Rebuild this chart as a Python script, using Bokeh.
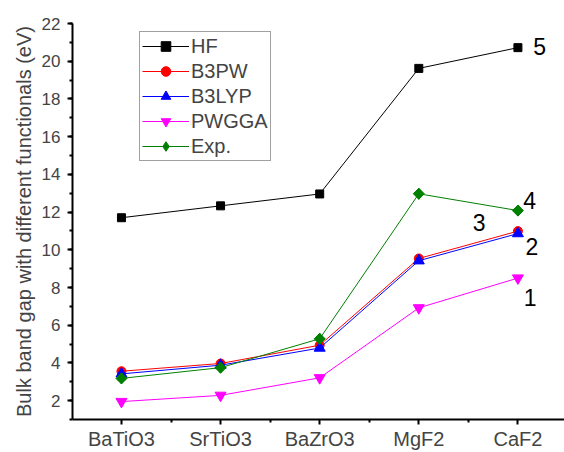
from bokeh.plotting import figure
from bokeh.models import Range1d, FixedTicker, Label, Legend, LegendItem, ColumnDataSource
from bokeh.embed import file_html
from bokeh.resources import INLINE
import numpy as np

# ---- data ----
categories = ["BaTiO3", "SrTiO3", "BaZrO3", "MgF2", "CaF2"]
hf = [11.70, 12.33, 12.96, 19.62, 20.72]
b3pw = [3.56, 3.97, 4.94, 9.54, 10.99]
b3lyp = [3.42, 3.88, 4.79, 9.42, 10.86]
pwgga = [1.95, 2.28, 3.21, 6.92, 8.50]
exp_vals = [3.18, 3.75, 5.28, 12.97, 12.08]

series_names = ["HF", "B3PW", "B3LYP", "PWGGA", "Exp."]
y_ticks = list(range(2, 23, 2))

note_texts = ["1", "2", "3", "4", "5"]

FONT = "Liberation Sans"

x = list(range(len(categories)))

p = figure(width=564, height=452, output_backend="svg", toolbar_location=None,
           x_range=Range1d(-0.494, 4.47), y_range=Range1d(1, 22),
           min_border_left=72, min_border_right=0, min_border_top=23,
           min_border_bottom=30)
p.outline_line_color = None
p.xgrid.visible = False
p.ygrid.visible = False
p.background_fill_color = "white"
p.border_fill_color = "white"

styles = [
    (hf, "black", "square", 8, 0.0),
    (b3pw, "red", "circle", 9, 0.0),
    (b3lyp, "blue", "triangle", 11, 0.0),
    (pwgga, "magenta", "inverted_triangle", 11, 0.0),
    (exp_vals, "green", "square", 7.8, np.pi / 4),
]

items = []
for name, (vals, col, mk, sz, ang) in zip(series_names, styles):
    src = ColumnDataSource(data=dict(x=x, y=vals))
    l = p.line("x", "y", source=src, line_color=col, line_width=1)
    if ang != 0.0:
        # diamond drawn underneath (hidden by the rotated square), used for the legend
        d = p.scatter("x", "y", source=src, marker="diamond", size=11,
                      fill_color=col, line_color=col)
    s = p.scatter("x", "y", source=src, marker=mk, size=sz, angle=ang,
                  fill_color=col, line_color=col)
    rends = [l, s] if ang == 0.0 else [l, d]
    items.append(LegendItem(label=name, renderers=rends))

legend = Legend(items=items, location=(67, 258))
legend.label_text_font = FONT
legend.label_text_font_size = "20px"
legend.glyph_width = 47
legend.glyph_height = 24
legend.label_height = 24
legend.spacing = 1
legend.padding = 2
legend.margin = 0
legend.label_standoff = 2
legend.border_line_color = "#444444"
legend.border_line_width = 1.5
legend.background_fill_color = "white"
legend.background_fill_alpha = 1
p.add_layout(legend, "center")

# axes
xa = p.xaxis[0]
xa.ticker = FixedTicker(ticks=x, minor_ticks=[-0.5, 0.5, 1.5, 2.5, 3.5, 4.5])
xa.major_label_overrides = {i: c for i, c in enumerate(categories)}
xa.major_label_text_font = FONT
xa.major_label_text_font_size = "20px"
xa.major_label_standoff = 3
xa.axis_line_width = 2
xa.major_tick_line_width = 2
xa.minor_tick_line_width = 2
xa.major_tick_out = 5
xa.major_tick_in = 0
xa.minor_tick_out = 3
xa.minor_tick_in = 0

ya = p.yaxis[0]
ya.ticker = FixedTicker(ticks=y_ticks, minor_ticks=list(range(1, 23)))
ya.major_label_text_font = FONT
ya.major_label_text_font_size = "17px"
ya.major_label_standoff = 7
ya.axis_line_width = 2
ya.major_tick_line_width = 2
ya.minor_tick_line_width = 2
ya.major_tick_out = 5
ya.major_tick_in = 0
ya.minor_tick_out = 3
ya.minor_tick_in = 0
ya.axis_label = "Bulk band gap with different functionals (eV)"
ya.axis_label_text_font = FONT
ya.axis_label_text_font_size = "20px"
ya.axis_label_text_font_style = "normal"
ya.axis_label_standoff = 4

# numbered annotations
note_pos = [(4.06, 7.48), (4.076, 10.2), (3.545, 11.43), (4.054, 12.61), (4.155, 20.77)]
for t, (nx, ny) in zip(note_texts, note_pos):
    p.add_layout(Label(x=nx, y=ny, text=t, text_font=FONT, text_font_size="23px",
                       text_align="left", text_baseline="middle", text_color="black"))

open("out.html", "w").write(file_html(p, INLINE))
